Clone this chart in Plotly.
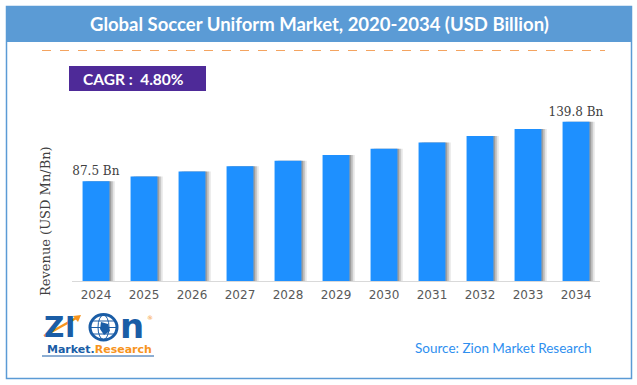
import plotly.graph_objects as go

years = ["2024", "2025", "2026", "2027", "2028", "2029", "2030", "2031", "2032", "2033", "2034"]
revenue = [87.5, 91.7, 96.1, 100.7, 105.5, 110.6, 115.9, 121.5, 127.3, 133.4, 139.8]
labels = [f"{v} Bn" if i in (0, len(revenue) - 1) else "" for i, v in enumerate(revenue)]
title_text = "Global Soccer Uniform Market, 2020-2034 (USD Billion)"
cagr_text = "CAGR :&nbsp; 4.80%"
y_title = "Revenue (USD Mn/Bn)"
source_text = "Source: Zion Market Research"

W, H = 637, 385
L, R, T, B = 72, 37, 100, 104
PW, PH = W - L - R, H - T - B


def px(x):
    return (x - L) / PW


def py(y):
    return (H - B - y) / PH


fig = go.Figure()

# soft bar shadows
for off, col in [(0.11, "rgba(0,0,0,0.10)"), (0.07, "rgba(0,0,0,0.16)"), (0.035, "rgba(0,0,0,0.18)")]:
    fig.add_trace(go.Bar(
        x=years, y=revenue, width=0.56, offset=-0.28 + off,
        marker=dict(color=col, line=dict(width=0)),
        hoverinfo="skip", showlegend=False,
    ))
fig.add_trace(go.Bar(
    x=years, y=revenue, width=0.56, offset=-0.28,
    marker=dict(color="#1E90FF", line=dict(width=0)),
    text=labels, textposition="outside", cliponaxis=False, constraintext="none",
    textfont=dict(family="DejaVu Serif", size=12, color="#404040"),
    showlegend=False,
))

shapes = [
    dict(type="rect", xref="paper", yref="paper", x0=px(6.5), x1=px(631.5), y0=py(6.5), y1=py(378.5),
         line=dict(color="#5B9BD5", width=1.5), fillcolor="rgba(0,0,0,0)", layer="below"),
    dict(type="rect", xref="paper", yref="paper", x0=px(6.5), x1=px(631.5), y0=py(6.5), y1=py(42),
         line=dict(width=0), fillcolor="#5B9BD5"),
    dict(type="line", xref="paper", yref="paper", x0=px(42), x1=px(605), y0=py(50.5), y1=py(50.5),
         line=dict(color="#F4A460", width=1, dash="dash")),
    dict(type="rect", xref="paper", yref="paper", x0=px(69), x1=px(206), y0=py(66), y1=py(91),
         line=dict(width=0), fillcolor="#4E2A98"),
    # logo globe
    dict(type="circle", xref="paper", yref="paper", x0=px(90), x1=px(117), y0=py(314.5), y1=py(340),
         line=dict(color="#1A5DA6", width=3), fillcolor="#FFFFFF"),
    dict(type="circle", xref="paper", yref="paper", x0=px(98), x1=px(109), y0=py(315), y1=py(339.5),
         line=dict(color="#1A5DA6", width=1), fillcolor="rgba(0,0,0,0)"),
    dict(type="line", xref="paper", yref="paper", x0=px(90), x1=px(117), y0=py(327.5), y1=py(327.5),
         line=dict(color="#1A5DA6", width=1)),
    dict(type="line", xref="paper", yref="paper", x0=px(92), x1=px(115), y0=py(321), y1=py(321),
         line=dict(color="#1A5DA6", width=1)),
    dict(type="line", xref="paper", yref="paper", x0=px(92), x1=px(115), y0=py(334), y1=py(334),
         line=dict(color="#1A5DA6", width=1)),
    dict(type="path", xref="paper", yref="paper",
         path=f"M {px(101)} {py(322)} L {px(108)} {py(324)} L {px(110)} {py(331)} L {px(104)} {py(335)} L {px(100)} {py(329)} Z",
         line=dict(width=0), fillcolor="#1A5DA6"),
    # logo arrow
    dict(type="line", xref="paper", yref="paper", x0=px(44), x1=px(78), y0=py(336), y1=py(317),
         line=dict(color="#F7941D", width=2.5)),
    dict(type="path", xref="paper", yref="paper",
         path=f"M {px(81)} {py(315)} L {px(73)} {py(316)} L {px(78)} {py(322)} Z",
         line=dict(width=0), fillcolor="#F7941D"),
    # logo underline
    dict(type="line", xref="paper", yref="paper", x0=px(42), x1=px(154), y0=py(356), y1=py(356),
         line=dict(color="#1A5DA6", width=1)),
]

annotations = [
    dict(text=title_text, x=px(319), y=py(24), xref="paper", yref="paper", showarrow=False,
         xanchor="center", yanchor="middle",
         font=dict(family="Lato", size=18.5, color="#FFFFFF", weight="bold")),
    dict(text=cagr_text, x=px(81), y=py(79), xref="paper", yref="paper", showarrow=False,
         xanchor="left", yanchor="middle",
         font=dict(family="Lato", size=15.5, color="#FFFFFF", weight="bold")),
    dict(text=y_title, x=px(45), y=py(221), xref="paper", yref="paper", showarrow=False,
         textangle=-90, xanchor="center", yanchor="middle",
         font=dict(family="DejaVu Serif", size=13, color="#404040")),
    dict(text=source_text, x=px(503.5), y=py(348), xref="paper", yref="paper", showarrow=False,
         xanchor="center", yanchor="middle",
         font=dict(family="Lato", size=13.5, color="#2E8FEF")),
    # logo text
    dict(text="Z", x=px(54), y=py(327), xref="paper", yref="paper", showarrow=False,
         xanchor="center", yanchor="middle",
         font=dict(family="DejaVu Sans", size=28, color="#1A5DA6", weight="bold")),
    dict(text="I", x=px(70), y=py(327), xref="paper", yref="paper", showarrow=False,
         xanchor="center", yanchor="middle",
         font=dict(family="DejaVu Sans", size=28, color="#1A5DA6", weight="bold")),
    dict(text="n", x=px(132), y=py(326), xref="paper", yref="paper", showarrow=False,
         xanchor="center", yanchor="middle",
         font=dict(family="DejaVu Sans", size=34, color="#1A5DA6", weight="bold")),
    dict(text="®", x=px(150), y=py(317), xref="paper", yref="paper", showarrow=False,
         xanchor="center", yanchor="middle",
         font=dict(family="DejaVu Sans", size=6, color="#F7941D")),
    dict(text="<b><span style='color:#1A5DA6'>Market.</span><span style='color:#F7941D'>Research</span></b>",
         x=px(99), y=py(349), xref="paper", yref="paper", showarrow=False,
         xanchor="center", yanchor="middle",
         font=dict(family="DejaVu Sans", size=11)),
]

fig.update_layout(
    width=W, height=H,
    margin=dict(l=L, r=R, t=T, b=B, autoexpand=False),
    paper_bgcolor="#FFFFFF", plot_bgcolor="#FFFFFF",
    barmode="overlay",
    shapes=shapes, annotations=annotations,
    xaxis=dict(range=[-0.5, len(years) - 0.5], showgrid=False, showline=True, linecolor="#D9D9D9",
               linewidth=1, ticks="", ticklabelstandoff=3,
               tickfont=dict(family="DejaVu Sans", size=12, color="#595959"), fixedrange=True),
    yaxis=dict(range=[0, PH / 1.14], showgrid=False, showline=False, showticklabels=False,
               zeroline=False, fixedrange=True),
    showlegend=False,
)

fig.write_html("out.html", config={"displayModeBar": False},
               post_script="document.body.style.margin='0';document.body.style.overflow='hidden';")
